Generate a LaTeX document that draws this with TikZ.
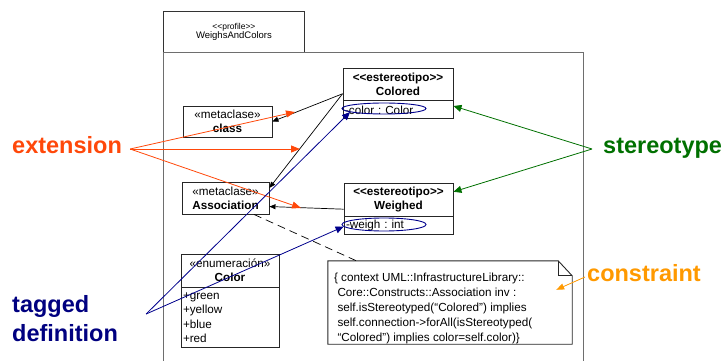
\documentclass[tikz,border=0pt]{standalone}
\usepackage{fontspec}
\newfontfamily\umlsans{Liberation Sans}
\usetikzlibrary{arrows.meta,shapes.geometric}
\definecolor{extorange}{RGB}{255,72,10}
\definecolor{stereogreen}{RGB}{0,112,0}
\definecolor{constrorange}{RGB}{255,153,0}
\definecolor{tagnavy}{RGB}{0,0,128}
\definecolor{linknavy}{RGB}{0,0,140}
\definecolor{framegray}{RGB}{110,110,110}
\frenchspacing
\tikzset{
  umlbox/.style={draw=black!85, line width=0.9pt, inner sep=0pt, align=center,
    font=\umlsans\fontsize{11.7}{14}\selectfont},
  compart/.style={draw=black!85, line width=0.9pt, inner xsep=2pt, inner ysep=0pt,
    align=left, font=\umlsans\fontsize{11.7}{14.5}\selectfont},
  tagring/.style={ellipse, draw=linknavy, line width=0.9pt, inner sep=0pt},
  biglabel/.style={font=\umlsans\bfseries\fontsize{23.5}{29}\selectfont, inner sep=0pt},
  extension link/.style={draw=black, line width=0.7pt, -{Triangle[length=6pt,width=5pt]}},
  ext pointer/.style={draw=extorange, line width=0.8pt, -{Triangle[length=9pt,width=7pt]}},
  stereo pointer/.style={draw=stereogreen, line width=0.8pt, -{Triangle[length=8pt,width=7pt]}},
  tag pointer/.style={draw=linknavy, line width=0.8pt, -{Triangle[length=8pt,width=7pt]}},
  constr pointer/.style={draw=constrorange, line width=0.8pt, -{Triangle[length=8pt,width=6pt]}},
  note link/.style={draw=black, line width=0.7pt, dash pattern=on 8pt off 5pt},
}
\begin{document}
\begin{tikzpicture}[x=1pt,y=-1pt]
\useasboundingbox (0,0) rectangle (723,361);

% profile package: tab and body
\node[umlbox, draw=black!80, anchor=north west, minimum width=141pt, minimum height=41pt,
  font=\umlsans\fontsize{9.5}{12}\selectfont]
  (tab) at (163,11) {{\fontsize{8.5}{12}\selectfont <<profile>>}\\[-2.5pt]WeighsAndColors};
\draw[framegray, line width=0.9pt] (163,361) -- (163,52) -- (583,52) -- (583,361);

% stereotype Colored
\node[umlbox, minimum width=110pt, minimum height=32pt] (colored) at (398,84)
  {\textbf{<<estereotipo>>}\\\textbf{Colored}};
\node[compart, anchor=north, minimum height=18pt, text width=106pt] (colatt) at (colored.south)
  {-color : Color};
\node[tagring, minimum width=84pt, minimum height=11pt] (colell) at (384,108.5) {};

% metaclass class
\node[umlbox, minimum width=89pt, minimum height=31pt] (cls) at (227.5,121.5)
  {«metaclase»\\\textbf{class}};

% metaclass Association
\node[umlbox, minimum width=87pt, minimum height=32pt] (assoc) at (225.5,198)
  {«metaclase»\\\textbf{Association}};

% stereotype Weighed
\node[umlbox, minimum width=109pt, minimum height=33pt] (weighed) at (398.5,199.5)
  {\textbf{<<estereotipo>>}\\\textbf{Weighed}};
\node[compart, anchor=north, minimum height=18pt, text width=105pt] (weiatt) at (weighed.south)
  {-weigh : int};
\node[tagring, minimum width=84pt, minimum height=13pt] (weiell) at (384,224.5) {};

% enumeration Color
\node[umlbox, minimum width=98pt, minimum height=33pt] (colorenum) at (230,270.5)
  {«enumeración»\\\textbf{Color}};
\node[compart, anchor=north, minimum height=60pt, text width=94pt] (colorlits) at (colorenum.south)
  {+green\\+yellow\\+blue\\+red};

% OCL constraint note
\node[minimum width=244pt, minimum height=83pt, inner sep=0pt] (note) at (450,302.5) {};
\draw[black!85, line width=0.9pt]
  (note.north west) -- ([xshift=-14pt]note.north east) -- ([yshift=-15pt]note.north east)
  -- (note.south east) -- (note.south west) -- cycle;
\draw[black!85, line width=0.9pt]
  ([xshift=-14pt]note.north east) |- ([yshift=-15pt]note.north east);
\node[anchor=north west, inner sep=0pt, align=left, font=\umlsans\fontsize{11.7}{15}\selectfont]
  (notetxt) at ([shift={(6pt,-12pt)}]note.north west)
  {\{ context UML::InfrastructureLibrary::\\
   \hspace*{3.5pt}Core::Constructs::Association inv :\\
   \hspace*{3.5pt}self.isStereotyped(“Colored”) implies\\
   \hspace*{3.5pt}self.connection->forAll(isStereotyped(\\
   \hspace*{3.5pt}“Colored”) implies color=self.color)\}};
\draw[note link] (assoc.330) -- (note.156);

% extensions from the stereotypes to the metaclasses
\draw[extension link] (colored.190) -- (cls.east);
\draw[extension link] (colored.190) -- (assoc.13);
\draw[extension link] (weighed.190) -- (assoc.349);

% callout labels
\node[biglabel, text=extorange, anchor=base west] (ext) at (12,153.3) {extension};
\node[biglabel, text=stereogreen, anchor=base west] (stereo) at (603,153.3) {stereotype};
\node[biglabel, text=constrorange, anchor=base west] (constr) at (587,281.7) {constraint};
\node[biglabel, text=tagnavy, anchor=base west, align=left] (tagdef) at (12,341) {tagged\\definition};

\coordinate (extfork) at ([shift={(8pt,4.3pt)}]ext.base east);
\coordinate (stfork) at ([shift={(-11pt,4.3pt)}]stereo.base west);
\coordinate (cnfork) at ([shift={(-2pt,4.7pt)}]constr.base west);
\coordinate (tgfork) at ([shift={(28pt,27pt)}]tagdef.base east);

% points on the extension links picked out by the label
\coordinate (extA) at (295,112);
\coordinate (extB) at (300,149);
\coordinate (extC) at (301,208);
\coordinate (cntip) at ([shift={(-16pt,-29pt)}]note.north east);

\draw[ext pointer] (extfork) -- (extA);
\draw[ext pointer] (extfork) -- (extB);
\draw[ext pointer] (extfork) -- (extC);
\draw[stereo pointer] (stfork) -- (colatt.4);
\draw[stereo pointer] (stfork) -- (weighed.8);
\draw[tag pointer] (tgfork) -- (colell.186);
\draw[tag pointer] (tgfork) -- (weiell.183);
\draw[constr pointer] (cnfork) -- (cntip);
\end{tikzpicture}
\end{document}
